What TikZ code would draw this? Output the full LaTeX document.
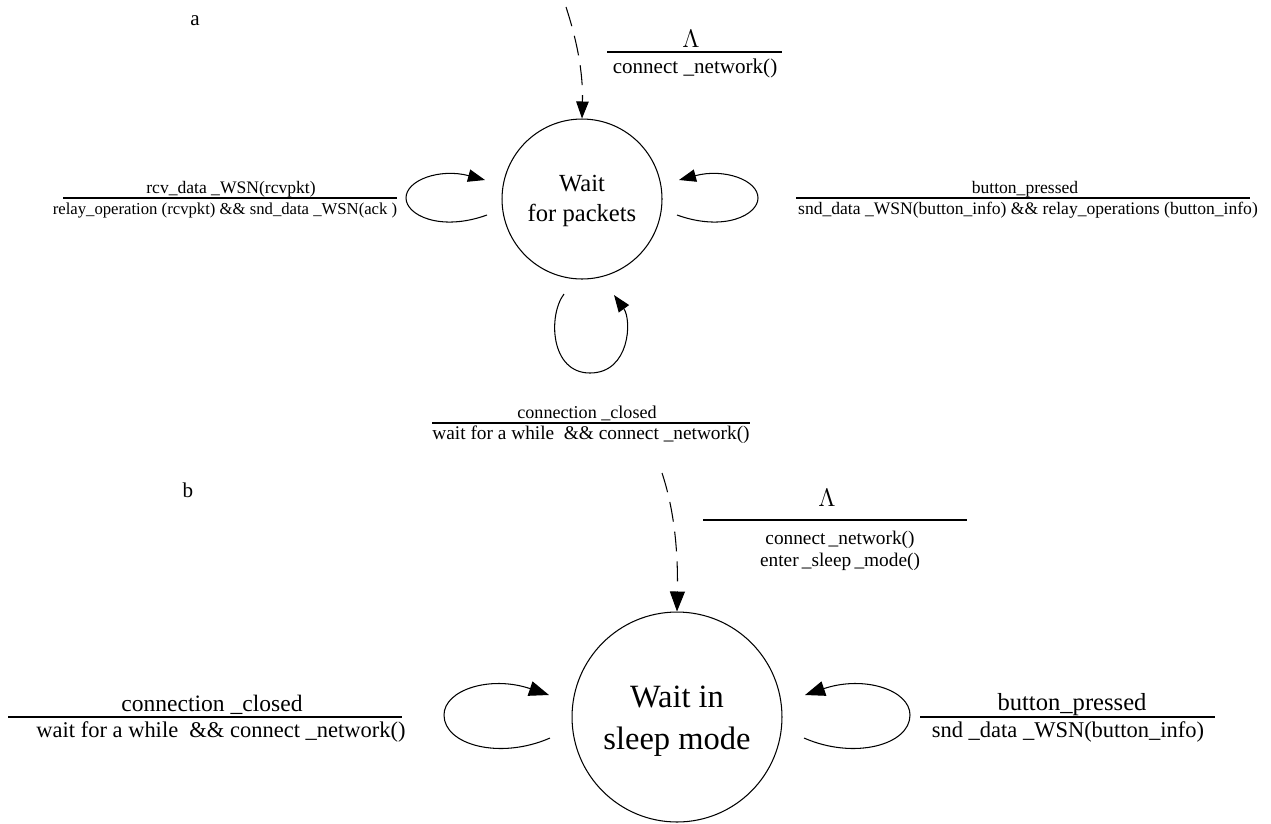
\documentclass[tikz,border=0pt]{standalone}
\usepackage{fontspec}
\setmainfont{Liberation Serif}
\usetikzlibrary{arrows.meta,calc}

\begin{document}
\begin{tikzpicture}[x=0.02cm,y=-0.02cm,
  state/.style={draw,circle,line width=0.6pt,inner sep=0pt,align=center},
  edge/.style={line width=0.6pt},
  tipA/.style={-{Triangle[length=0.34cm,width=0.25cm]}},
  tipB/.style={-{Triangle[length=0.4cm,width=0.3cm]}},
  initial/.style={dash pattern=on 0.4cm off 0.2cm},
  bar/.style={line width=0.6pt},
  lblA/.style={font=\fontsize{10}{11}\selectfont,inner sep=0pt},
  lblB/.style={font=\fontsize{12.8}{14}\selectfont,inner sep=0pt},
  lam/.style={font=\fontsize{14}{15}\selectfont,inner sep=0pt}]
\useasboundingbox (0,0) rectangle (1271,823);

% ---------------- part a ----------------
\node[font=\fontsize{12}{13}\selectfont] (pa) at (195,21) {a};
\node[state,minimum size=3.2cm] (A) at (582,199) {};
\node[font=\fontsize{14}{17}\selectfont,align=center] (Atext) at (582,201) {Wait\\for packets};

% initial transition
\coordinate (a0) at (566,7);
\draw[edge,initial,tipA] (a0) .. controls (580,50) and (583,80) .. (A.north);
\node[lam] (lamA) at (691,39) {$\Lambda$};
\draw[bar] (607,52) -- (782,52);
\node[font=\fontsize{12}{13}\selectfont,inner sep=0pt] (actA) at (695,68) {connect \_network()};

% self loop on the left
\coordinate (aL1) at ($(A.center)+(-95,16)$);
\coordinate (aL2) at ($(A.center)+(-97,-19)$);
\draw[edge,tipA] (aL1) .. controls (440,232) and (406,215) .. (406,198)
  .. controls (406,180) and (440,168) .. (aL2);
\node[lblA] (evL) at (231,189) {rcv\_data \_WSN(rcvpkt)};
\draw[bar] (63,198) -- (397,198);
\node[lblA,font=\fontsize{9.5}{11}\selectfont] (acL) at (225,210) {relay\_operation (rcvpkt) \&\& snd\_data \_WSN(ack )};

% self loop on the right
\coordinate (aR1) at ($(A.center)+(95,16)$);
\coordinate (aR2) at ($(A.center)+(97,-19)$);
\draw[edge,tipA] (aR1) .. controls (724,232) and (758,215) .. (758,198)
  .. controls (758,180) and (724,168) .. (aR2);
\node[lblA] (evR) at (1025,189) {button\_pressed};
\draw[bar] (796,198) -- (1250,198);
\node[lblA] (acR) at (1028,210) {snd\_data \_WSN(button\_info) \&\& relay\_operations (button\_info)};

% self loop below
\coordinate (aB1) at ($(A.center)+(-18,95)$);
\coordinate (aB2) at ($(A.center)+(32,96)$);
\draw[edge,tipA] (aB1) .. controls (548,315) and (550,373) .. (590,373)
  .. controls (630,373) and (632,320) .. (aB2);
\node[lblA,font=\fontsize{10.3}{12}\selectfont] (evB) at (587,413) {connection \_closed};
\draw[bar] (432,423) -- (750,423);
\node[lblA,font=\fontsize{11}{12}\selectfont] (acB) at (591,435) {wait for a while~~\&\& connect \_network()};

% ---------------- part b ----------------
\node[font=\fontsize{12}{13}\selectfont] (pb) at (188,490) {b};
\node[state,minimum size=4.2cm] (B) at (677,717) {};
\node[font=\fontsize{18.5}{24}\selectfont,align=center] (Btext) at (677,721) {Wait in\\sleep mode};

% initial transition
\coordinate (b0) at (662,473);
\draw[edge,initial,tipB] (b0) .. controls (676,515) and (678,560) .. (B.north);
\node[lam,font=\fontsize{15}{16}\selectfont] (lamB) at (827,498) {$\Lambda$};
\draw[bar] (703,520) -- (967,520);
\node[font=\fontsize{11}{12.5}\selectfont,inner sep=0pt,align=center] (actB) at (840,551) {connect\,\_network()\\enter\,\_sleep\,\_mode()};

% self loop on the left
\coordinate (bL1) at ($(B.center)+(-127,21)$);
\coordinate (bL2) at ($(B.center)+(-128,-22)$);
\draw[edge,tipB] (bL1) .. controls (500,760) and (444,745) .. (444,715)
  .. controls (444,690) and (490,675) .. (bL2);
\node[lblB,font=\fontsize{13.4}{15}\selectfont] (evBL) at (212,705) {connection \_closed};
\draw[bar] (8,717) -- (402,717);
\node[lblB] (acBL) at (221,732) {wait for a while~~\&\& connect \_network()};

% self loop on the right
\coordinate (bR1) at ($(B.center)+(127,21)$);
\coordinate (bR2) at ($(B.center)+(128,-22)$);
\draw[edge,tipB] (bR1) .. controls (854,760) and (910,745) .. (910,715)
  .. controls (910,690) and (864,675) .. (bR2);
\node[lblB,font=\fontsize{14}{15}\selectfont] (evBR) at (1072,705) {button\_pressed};
\draw[bar] (920,717) -- (1215,717);
\node[lblB] (acBR) at (1068,732) {snd \_data \_WSN(button\_info)};
\end{tikzpicture}
\end{document}
